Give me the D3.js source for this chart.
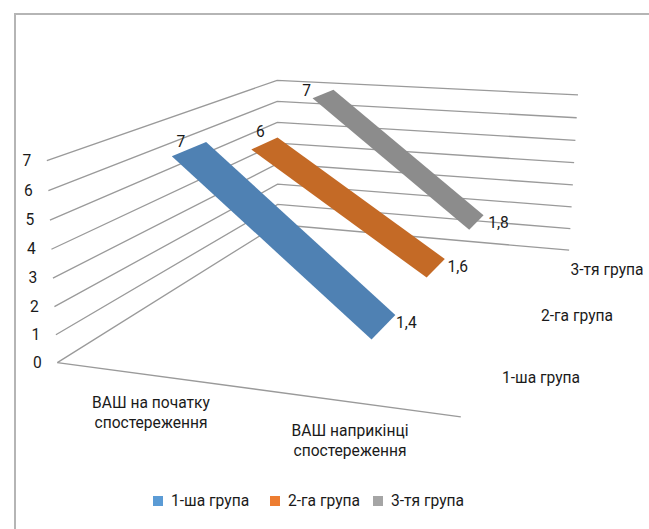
<!DOCTYPE html>
<html><head><meta charset="utf-8">
<script src="https://cdn.jsdelivr.net/npm/d3@7"></script>
<style>
html,body{margin:0;padding:0;background:#fff}
svg{display:block}
text{font-family:Roboto,"Noto Sans",sans-serif;fill:#1a1a1a;font-size:15.6px}
</style></head><body>
<svg id="chart" width="649" height="529"></svg>
<script>
// Chart content
const categories = [["ВАШ на початку","спостереження"],["ВАШ наприкінці","спостереження"]];
const seriesNames = ["1-ша група","2-га група","3-тя група"];
const firstGroup = [7,1.4];
const secondGroup = [6,1.6];
const thirdGroup = [7,1.8];
const valueTicks = [0,1,2,3,4,5,6,7];
const valueLabels = [["7","1,4"],["6","1,6"],["7","1,8"]];

const ribbonColors = ["#4f81b3","#c46a26","#8c8c8c"];
const swatchColors = ["#5b9bd5","#ed7d31","#a5a5a5"];

// Scales in the chart's box: category across, value up, series into the depth
const xScale = d3.scalePoint().domain([0,1]).range([0.25,0.75]);
const yScale = d3.scaleLinear().domain([0,7]).range([0,1]);
const zScale = d3.scaleBand().domain([0,1,2]).range([0,1]);
const ribbonShare = 0.4;

// Perspective camera, fitted from where the box corners land on the page
const boxCorners = [
  [[0,0,0],[57,362]],[[0,1,0],[47,161]],
  [[0,0,1],[278,225]],[[0,1,1],[277,80]],
  [[1,0,1],[569,250]],[[1,1,1],[578,95]],
  [[1,0,0],[461,417]]
];
function solve(A,b){
  const n=b.length, M=A.map((r,i)=>[...r,b[i]]);
  for(let c=0;c<n;c++){
    let p=c; for(let r=c+1;r<n;r++) if(Math.abs(M[r][c])>Math.abs(M[p][c])) p=r;
    [M[c],M[p]]=[M[p],M[c]];
    for(let r=0;r<n;r++){ if(r===c) continue;
      const f=M[r][c]/M[c][c]; for(let k=c;k<=n;k++) M[r][k]-=f*M[c][k]; }
  }
  return M.map((r,i)=>r[n]/r[i]);
}
function fitCamera(pairs){
  const rows=[],rhs=[];
  pairs.forEach(([[x,y,z],[X,Y]])=>{
    rows.push([x,y,z,1,0,0,0,0,-X*x,-X*y,-X*z]); rhs.push(X);
    rows.push([0,0,0,0,x,y,z,1,-Y*x,-Y*y,-Y*z]); rhs.push(Y);
  });
  const n=11, AtA=d3.range(n).map(()=>Array(n).fill(0)), Atb=Array(n).fill(0);
  rows.forEach((r,k)=>{ for(let i=0;i<n;i++){ Atb[i]+=r[i]*rhs[k]; for(let j=0;j<n;j++) AtA[i][j]+=r[i]*r[j]; } });
  return solve(AtA,Atb);
}
const cam = fitCamera(boxCorners);
const project = (x,y,z)=>{
  const w=cam[8]*x+cam[9]*y+cam[10]*z+1;
  return [(cam[0]*x+cam[1]*y+cam[2]*z+cam[3])/w,(cam[4]*x+cam[5]*y+cam[6]*z+cam[7])/w];
};

const svg = d3.select("#chart");
const line = d3.line();

// Frame of the chart area
svg.append("path").attr("d","M15,529V14H649").attr("fill","none").attr("stroke","#b5b5b5").attr("stroke-width",2);

// Gridlines on the two walls, plus the front edge of the floor
const grid = svg.append("g").attr("fill","none").attr("stroke","#9a9a9a").attr("stroke-width",1.3);
valueTicks.forEach(v=>{
  const y=yScale(v);
  grid.append("path").attr("d",line([project(0,y,0),project(0,y,1),project(1,y,1)]));
});
grid.append("path").attr("d",line([project(0,0,0),project(1,0,0)]));

// Value axis labels
svg.append("g").selectAll("text").data(valueTicks).join("text")
  .attr("text-anchor","middle")
  .attr("x",v=>project(0,yScale(v),0)[0]-20)
  .attr("y",v=>project(0,yScale(v),0)[1]+5)
  .text(v=>v);

// One flat ribbon per group, running from the first category to the second
const allSeries = [firstGroup,secondGroup,thirdGroup];
const startLabelOffset = [[9,-9],[9,-13],[-6,-2]];
const endLabelOffset = [[11,13],[13,13],[15,13]];
allSeries.forEach((vals,i)=>{
  const mid=zScale(i)+zScale.bandwidth()/2, half=zScale.bandwidth()*ribbonShare/2;
  const z0=mid-half, z1=mid+half;
  const x0=xScale(0), x1=xScale(1), y0=yScale(vals[0]), y1=yScale(vals[1]);
  const corners=[project(x0,y0,z0),project(x0,y0,z1),project(x1,y1,z1),project(x1,y1,z0)];
  svg.append("path").attr("d",line(corners)+"Z").attr("fill",ribbonColors[i]);
  // value labels sit just off the ribbon's ends
  const start=project(x0,y0,z0), end=project(x1,y1,z1);
  svg.append("text").attr("x",start[0]+startLabelOffset[i][0]).attr("y",start[1]+startLabelOffset[i][1]).attr("text-anchor","middle").text(valueLabels[i][0]);
  svg.append("text").attr("x",end[0]+endLabelOffset[i][0]).attr("y",end[1]+endLabelOffset[i][1]).attr("text-anchor","middle").text(valueLabels[i][1]);
});

// Category labels under the front edge
const catPos=[[151,408],[350,436]];
categories.forEach((lines,i)=>{
  const t=svg.append("text").attr("text-anchor","middle");
  lines.forEach((s,k)=>t.append("tspan").attr("x",catPos[i][0]).attr("y",catPos[i][1]+k*20).text(s));
});

// Series labels along the right edge
const seriesPos=[[541,383],[577,321],[607,275]];
seriesNames.forEach((s,i)=>svg.append("text").attr("x",seriesPos[i][0]).attr("y",seriesPos[i][1]).attr("text-anchor","middle").text(s));

// Legend
const legendX=[153,270,373];
seriesNames.forEach((s,i)=>{
  svg.append("rect").attr("x",legendX[i]).attr("y",496).attr("width",10).attr("height",10).attr("fill",swatchColors[i]);
  svg.append("text").attr("x",legendX[i]+18).attr("y",506).text(s);
});
</script></body></html>
